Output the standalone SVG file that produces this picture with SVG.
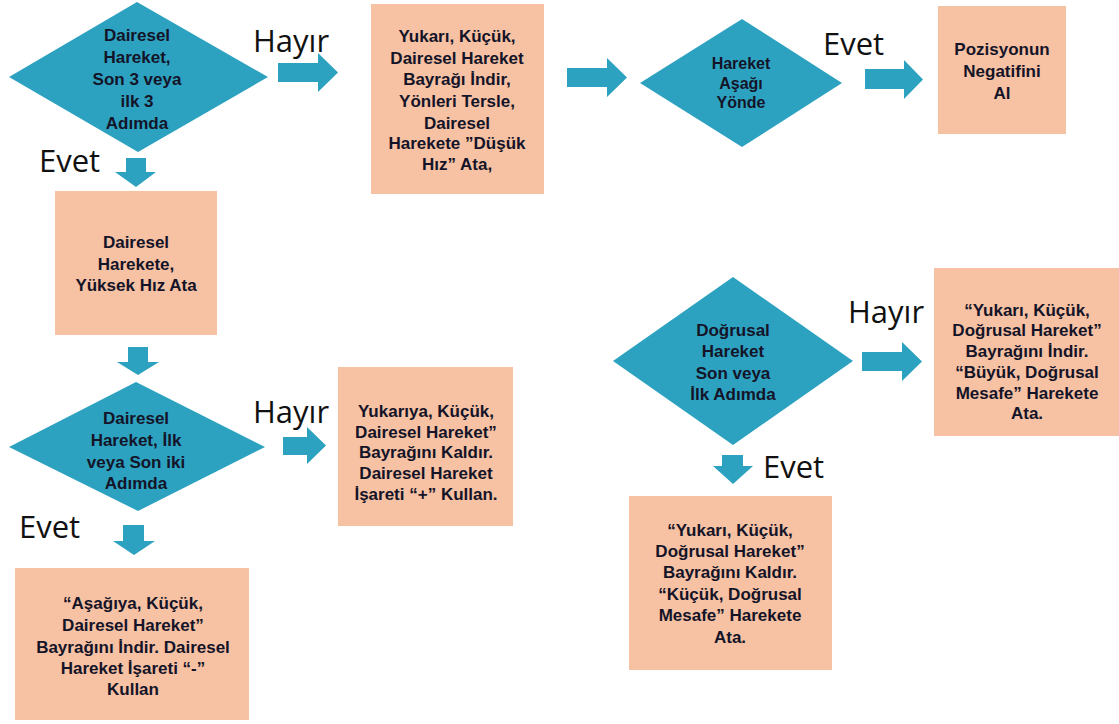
<svg xmlns="http://www.w3.org/2000/svg" width="1119" height="724" viewBox="0 0 1119 724">
<style>
.dia{fill:#2DA2C0}
.box{fill:#F7C1A3}
.arr{fill:#2DA2C0}
.t{font-family:"Liberation Sans",Arial,sans-serif;font-weight:bold;font-size:17px;fill:#141428;text-anchor:middle;dominant-baseline:central}
.ts{font-size:16px}
.lbl{font-family:"Open Sans","DejaVu Sans",sans-serif;font-size:31px;fill:#111111}
</style>
<rect width="1119" height="724" fill="#ffffff"/>
<g id="connectors">
<path class="arr" d="M278,63H318V53L338,72.5L318,92V82H278Z"/>
<path class="arr" d="M567,68H607V58L627,77.5L607,97V87H567Z"/>
<path class="arr" d="M865,69H904V60L923,79.5L904,99V89H865Z"/>
<path class="arr" d="M283,437H307V427L326,445.5L307,464V455H283Z"/>
<path class="arr" d="M862,352H902V342L922,361.5L902,381V371H862Z"/>
<path class="arr" d="M126,158H146V172H156L136,187L115,172H126Z"/>
<path class="arr" d="M128,347H148V362H159L138,375L117,362H128Z"/>
<path class="arr" d="M123,525H144V541H155L134,555L113,541H123Z"/>
<path class="arr" d="M722,455H743V466H753L733,484L713,466H722Z"/>
<text class="lbl" x="253" y="52">Hayır</text>
<text class="lbl" x="39" y="172">Evet</text>
<text class="lbl" x="253" y="423">Hayır</text>
<text class="lbl" x="19" y="538">Evet</text>
<text class="lbl" x="823" y="55">Evet</text>
<text class="lbl" x="848" y="323">Hayır</text>
<text class="lbl" x="763" y="478">Evet</text>
</g>
<g id="d1">
<polygon class="dia" points="9,77 137,2 268,77 138,152"/>
<text class="t"><tspan x="137" y="35">Dairesel</tspan><tspan x="137" y="57">Hareket,</tspan><tspan x="137" y="79">Son 3 veya</tspan><tspan x="137" y="101">ilk 3</tspan><tspan x="137" y="123">Adımda</tspan></text>
</g>
<g id="b1">
<rect class="box" x="55" y="191" width="162" height="144"/>
<text class="t"><tspan x="136" y="242">Dairesel</tspan><tspan x="136" y="264">Harekete,</tspan><tspan x="136" y="285">Yüksek Hız Ata</tspan></text>
</g>
<g id="d2">
<polygon class="dia" points="9,447 136,382 265,447 138,511"/>
<text class="t"><tspan x="136" y="418">Dairesel</tspan><tspan x="136" y="440">Hareket, İlk</tspan><tspan x="136" y="462">veya Son iki</tspan><tspan x="136" y="483">Adımda</tspan></text>
</g>
<g id="b3">
<rect class="box" x="15" y="568" width="234" height="152"/>
<text class="t"><tspan x="133" y="603">“Aşağıya, Küçük,</tspan><tspan x="133" y="625">Dairesel Hareket”</tspan><tspan x="133" y="647">Bayrağını İndir. Dairesel</tspan><tspan x="133" y="668">Hareket İşareti “-”</tspan><tspan x="133" y="689">Kullan</tspan></text>
</g>
<g id="b4">
<rect class="box" x="338" y="367" width="175" height="159"/>
<text class="t"><tspan x="426" y="411">Yukarıya, Küçük,</tspan><tspan x="426" y="432">Dairesel Hareket”</tspan><tspan x="426" y="452">Bayrağını Kaldır.</tspan><tspan x="426" y="473">Dairesel Hareket</tspan><tspan x="426" y="494">İşareti “+” Kullan.</tspan></text>
</g>
<g id="b2">
<rect class="box" x="371" y="4" width="173" height="190"/>
<text class="t"><tspan x="457" y="36">Yukarı, Küçük,</tspan><tspan x="457" y="58">Dairesel Hareket</tspan><tspan x="457" y="79">Bayrağı İndir,</tspan><tspan x="457" y="101">Yönleri Tersle,</tspan><tspan x="457" y="123">Dairesel</tspan><tspan x="457" y="143">Harekete  ”Düşük</tspan><tspan x="457" y="164">Hız” Ata,</tspan></text>
</g>
<g id="d3">
<polygon class="dia" points="640,83 742,19 842,83 742,147"/>
<text class="t ts"><tspan x="741" y="63">Hareket</tspan><tspan x="741" y="83">Aşağı</tspan><tspan x="741" y="102">Yönde</tspan></text>
</g>
<g id="b5">
<rect class="box" x="938" y="6" width="128" height="128"/>
<text class="t"><tspan x="1002" y="49">Pozisyonun</tspan><tspan x="1002" y="71">Negatifini</tspan><tspan x="1002" y="93">Al</tspan></text>
</g>
<g id="d4">
<polygon class="dia" points="613,361 733,277 853,361 733,445"/>
<text class="t"><tspan x="733" y="330">Doğrusal</tspan><tspan x="733" y="351">Hareket</tspan><tspan x="733" y="373">Son veya</tspan><tspan x="733" y="394">İlk Adımda</tspan></text>
</g>
<g id="b6">
<rect class="box" x="934" y="268" width="185" height="168"/>
<text class="t"><tspan x="1027" y="310">“Yukarı, Küçük,</tspan><tspan x="1027" y="330">Doğrusal Hareket”</tspan><tspan x="1027" y="351">Bayrağını İndir.</tspan><tspan x="1027" y="372">“Büyük, Doğrusal</tspan><tspan x="1027" y="393">Mesafe” Harekete</tspan><tspan x="1027" y="413">Ata.</tspan></text>
</g>
<g id="b7">
<rect class="box" x="629" y="496" width="203" height="174"/>
<text class="t"><tspan x="730" y="530">“Yukarı, Küçük,</tspan><tspan x="730" y="551">Doğrusal Hareket”</tspan><tspan x="730" y="572">Bayrağını Kaldır.</tspan><tspan x="730" y="594">“Küçük, Doğrusal</tspan><tspan x="730" y="615">Mesafe” Harekete</tspan><tspan x="730" y="637">Ata.</tspan></text>
</g>
</svg>
